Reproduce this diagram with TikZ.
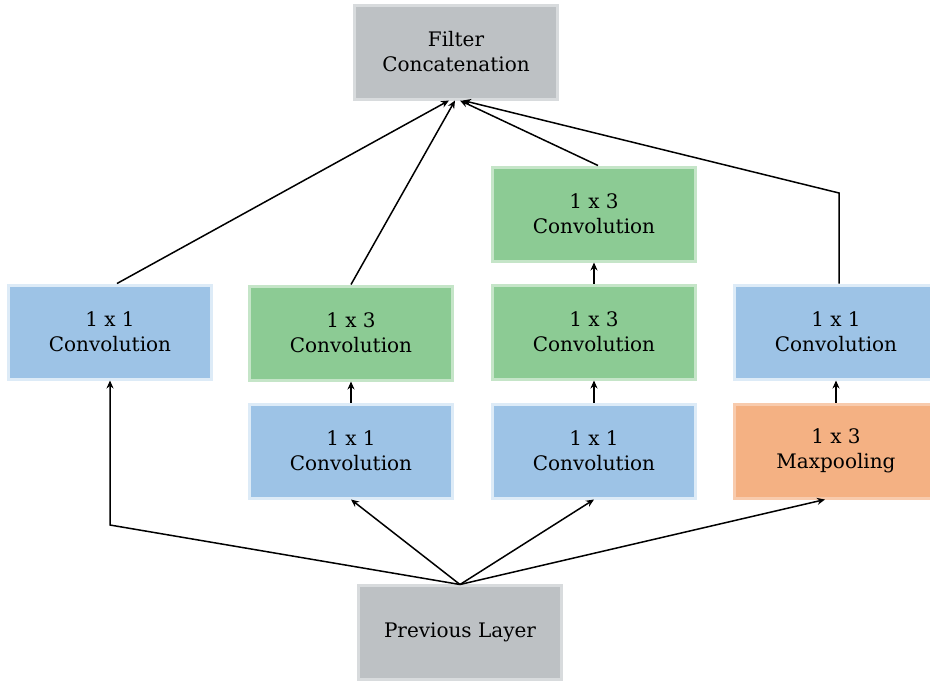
\documentclass[tikz,border=0pt]{standalone}
\usepackage{fontspec}
\setmainfont{DejaVu Serif}
\usetikzlibrary{arrows.meta}

\definecolor{convblue}{HTML}{9DC3E6}
\definecolor{convblueedge}{HTML}{DDEBF7}
\definecolor{convgreen}{HTML}{8CCB94}
\definecolor{convgreenedge}{HTML}{C5E5C8}
\definecolor{poolorange}{HTML}{F4B183}
\definecolor{poolorangeedge}{HTML}{F8CBAD}
\definecolor{layergray}{HTML}{BDC1C4}
\definecolor{layergrayedge}{HTML}{D8DBDD}

\begin{document}
\begin{tikzpicture}[
    x=1pt, y=-1pt,
    layer/.style={draw, line width=3pt, minimum width=203pt, minimum height=94pt,
        align=center, font=\fontsize{20}{25}\selectfont},
    grey/.style={layer, fill=layergray, draw=layergrayedge},
    conv/.style={layer, fill=convblue, draw=convblueedge},
    convb/.style={layer, fill=convgreen, draw=convgreenedge},
    pool/.style={layer, fill=poolorange, draw=poolorangeedge},
    link/.style={line width=1.5pt, -{Stealth[length=8pt,width=7pt]}}
]

    \useasboundingbox (0,0) rectangle (930,681);

    % Input and output
    \node[grey] (concat) at (456,52) {Filter\\Concatenation};
    \node[grey] (prev) at (460,632) {Previous Layer};

    % Branch 1
    \node[conv] (A1) at (110,332) {1 x 1\\Convolution};

    % Branch 2
    \node[conv] (B1) at (351,451) {1 x 1\\Convolution};
    \node[convb] (B2) at (351,333) {1 x 3\\Convolution};

    % Branch 3
    \node[conv] (C1) at (594,451) {1 x 1\\Convolution};
    \node[convb] (C2) at (594,332) {1 x 3\\Convolution};
    \node[convb] (C3) at (594,214) {1 x 3\\Convolution};

    % Branch 4
    \node[pool] (D1) at (836,451) {1 x 3\\Maxpooling};
    \node[conv] (D2) at (836,332) {1 x 1\\Convolution};

    % Connections
    \coordinate (split) at ([yshift=-1pt]prev.north);

    \draw[link] (split) -- (A1.south |- 0,525) -- (A1.south);
    \draw[link] (split) -- (B1.south);
    \draw[link] (split) -- (C1.south);
    \draw[link] (split) -- ([xshift=-11pt]D1.south);

    \draw[link] (B1) -- (B2);
    \draw[link] (C1) -- (C2);
    \draw[link] (C2) -- (C3);
    \draw[link] (D1) -- (D2);

    \draw[link] ([xshift=7pt]A1.north) -- ([xshift=-7pt]concat.south);
    \draw[link] (B2.north) -- ([xshift=-1pt]concat.south);
    \draw[link] ([xshift=4pt]C3.north) -- ([xshift=4pt]concat.south);
    \draw[link] ([xshift=3pt]D2.north) -- ([xshift=3pt]D2.north |- 0,193) -- ([xshift=7pt]concat.south);

\end{tikzpicture}
\end{document}
